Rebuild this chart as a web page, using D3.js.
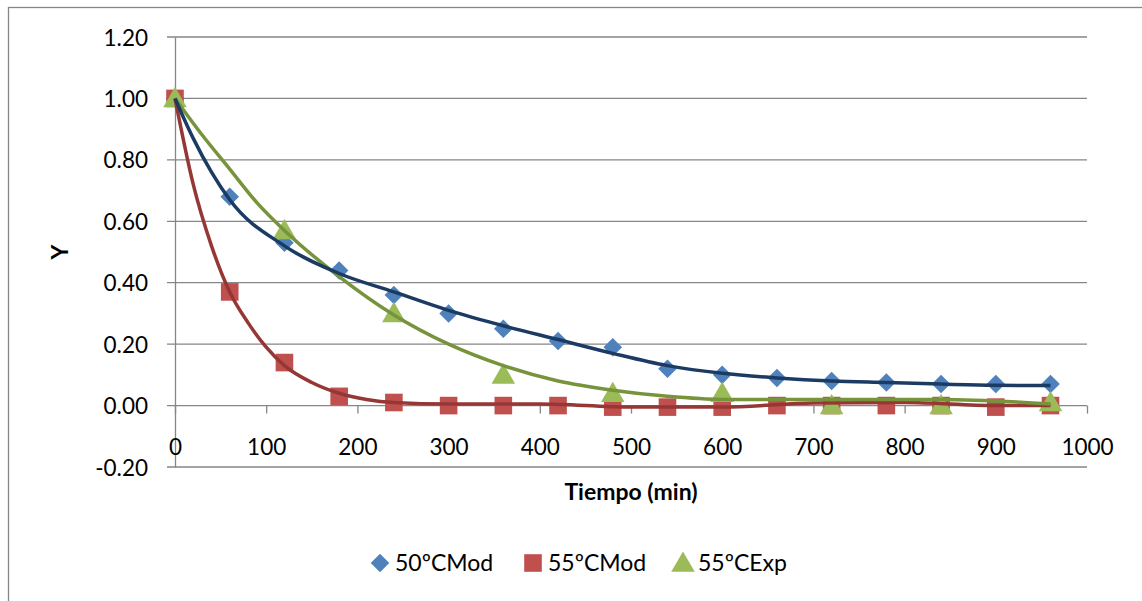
<!DOCTYPE html>
<html>
<head>
<meta charset="utf-8">
<script src="https://cdn.jsdelivr.net/npm/d3@7"></script>
<style>
  body { margin: 0; background: #fff; }
  text { font-family: Lato, "Open Sans", sans-serif; fill: #000; }
</style>
</head>
<body>
<div id="chart"></div>
<script>
// measured points
const times50 = [0, 60, 120, 180, 240, 300, 360, 420, 480, 540, 600, 660, 720, 780, 840, 900, 960];
const mod50 = [1.00, 0.68, 0.53, 0.44, 0.36, 0.30, 0.25, 0.21, 0.19, 0.12, 0.10, 0.09, 0.08, 0.075, 0.07, 0.07, 0.07];
const mod55 = [1.00, 0.37, 0.14, 0.03, 0.01, 0.00, 0.00, 0.00, -0.005, -0.005, -0.005, 0.00, 0.00, 0.00, 0.00, -0.005, 0.00];
const timesExp = [0, 120, 240, 360, 480, 600, 720, 840, 960];
const exp55 = [1.00, 0.57, 0.30, 0.10, 0.04, 0.04, 0.00, 0.00, 0.01];

// trend lines
const trend50T = [0, 20, 40, 60, 120, 180, 240, 300, 360, 420, 480, 540, 600, 660, 720, 780, 840, 900, 960];
const trend50 = [1.00, 0.87, 0.76, 0.67, 0.52, 0.43, 0.37, 0.31, 0.26, 0.215, 0.17, 0.13, 0.105, 0.09, 0.08, 0.075, 0.07, 0.066, 0.065];
const trend55T = [0, 20, 40, 60, 80, 100, 120, 150, 180, 210, 240, 300, 400, 500, 600, 700, 800, 900, 960];
const trend55 = [1.00, 0.72, 0.52, 0.37, 0.27, 0.19, 0.13, 0.075, 0.04, 0.02, 0.01, 0.005, 0.005, -0.005, -0.005, 0.008, 0.01, 0.00, 0.00];
const trendExpT = [0, 30, 60, 90, 120, 180, 240, 300, 360, 420, 480, 540, 600, 720, 840, 960];
const trendExp = [1.00, 0.88, 0.77, 0.66, 0.57, 0.42, 0.295, 0.20, 0.13, 0.08, 0.05, 0.03, 0.02, 0.02, 0.02, 0.005];

const xTicks = [0, 100, 200, 300, 400, 500, 600, 700, 800, 900, 1000];
const yTicks = [-0.2, 0, 0.2, 0.4, 0.6, 0.8, 1.0, 1.2];
const seriesNames = ['50ºCMod', '55ºCMod', '55ºCExp'];

const width = 1142, height = 601;
const margin = {top: 37, right: 55, bottom: 134, left: 175};

const svg = d3.select('#chart').append('svg')
    .attr('width', width)
    .attr('height', height);

// outer chart border
svg.append('rect')
    .attr('x', 8.5).attr('y', 7.5)
    .attr('width', width + 10).attr('height', height + 10)
    .attr('fill', 'none')
    .attr('stroke', '#868686')
    .attr('stroke-width', 1.3);

const xScale = d3.scaleLinear()
    .domain([0, 1000])
    .range([margin.left, width - margin.right]);

const yScale = d3.scaleLinear()
    .domain([-0.2, 1.2])
    .range([height - margin.bottom, margin.top]);

// gridlines
svg.append('g')
    .selectAll('line')
    .data(yTicks)
    .join('line')
    .attr('x1', xScale(0) - 8)
    .attr('x2', xScale(1000))
    .attr('y1', d => yScale(d))
    .attr('y2', d => yScale(d))
    .attr('stroke', '#868686')
    .attr('stroke-width', 1.3);

// y axis
const yAxis = svg.append('g')
    .attr('transform', 'translate(' + xScale(0) + ',0)')
    .call(d3.axisLeft(yScale).tickValues(yTicks).tickSize(0).tickPadding(27)
        .tickFormat(d => d.toFixed(2)));
yAxis.select('.domain').attr('stroke', '#868686').attr('stroke-width', 1.3);
yAxis.selectAll('text').style('font-size', '22.5px').attr('dy', '0.36em');

// x axis sits on y = 0
const xAxis = svg.append('g')
    .attr('transform', 'translate(0,' + yScale(0) + ')')
    .call(d3.axisBottom(xScale).tickValues(xTicks).tickSize(8).tickPadding(25)
        .tickFormat(d3.format('d')));
xAxis.select('.domain').remove();
xAxis.selectAll('line').attr('stroke', '#868686').attr('stroke-width', 1.3);
xAxis.selectAll('text').style('font-size', '22.5px');

// axis titles
svg.append('text')
    .attr('x', (xScale(0) + xScale(1000)) / 2)
    .attr('y', 500)
    .attr('text-anchor', 'middle')
    .style('font-size', '23px')
    .style('font-weight', 'bold')
    .text('Tiempo (min)');

svg.append('text')
    .attr('transform', 'translate(68,' + yScale(0.5) + ') rotate(-90)')
    .attr('text-anchor', 'middle')
    .style('font-size', '23px')
    .style('font-weight', 'bold')
    .text('Y');

const line = d3.line()
    .x(d => xScale(d[0]))
    .y(d => yScale(d[1]))
    .curve(d3.curveMonotoneX);

const markerColors = ['#4F81BD', '#C0504D', '#9BBB59'];
const lineColors = ['#1C3B63', '#953735', '#77933C'];
const symbols = [
    d3.symbol().type(d3.symbolDiamond2).size(220),
    d3.symbol().type(d3.symbolSquare).size(310),
    d3.symbol().type(d3.symbolTriangle).size(240)
];

const pts = [
    times50.map((t, i) => [t, mod50[i]]),
    times50.map((t, i) => [t, mod55[i]]),
    timesExp.map((t, i) => [t, exp55[i]])
];
const trends = [
    trend50T.map((t, i) => [t, trend50[i]]),
    trend55T.map((t, i) => [t, trend55[i]]),
    trendExpT.map((t, i) => [t, trendExp[i]])
];

// markers first, trend lines over them
[0, 1, 2].forEach(s => {
    svg.append('g')
        .selectAll('path')
        .data(pts[s])
        .join('path')
        .attr('transform', d => 'translate(' + xScale(d[0]) + ',' + (yScale(d[1]) + (s === 2 ? 2 : 0)) + ')')
        .attr('d', symbols[s])
        .attr('fill', markerColors[s]);
});

[1, 2, 0].forEach(s => {
    svg.append('path')
        .datum(trends[s])
        .attr('d', line)
        .attr('fill', 'none')
        .attr('stroke', lineColors[s])
        .attr('stroke-width', 3.5);
});

// legend
const legendX = [380, 533, 683];
const legend = svg.append('g');
seriesNames.forEach((name, s) => {
    legend.append('path')
        .attr('transform', 'translate(' + legendX[s] + ',' + (563 + (s === 2 ? 2 : 0)) + ')')
        .attr('d', symbols[s])
        .attr('fill', markerColors[s]);
    legend.append('text')
        .attr('x', legendX[s] + 15)
        .attr('y', 563)
        .attr('dy', '0.36em')
        .style('font-size', '23px')
        .text(name);
});
</script>
</body>
</html>
